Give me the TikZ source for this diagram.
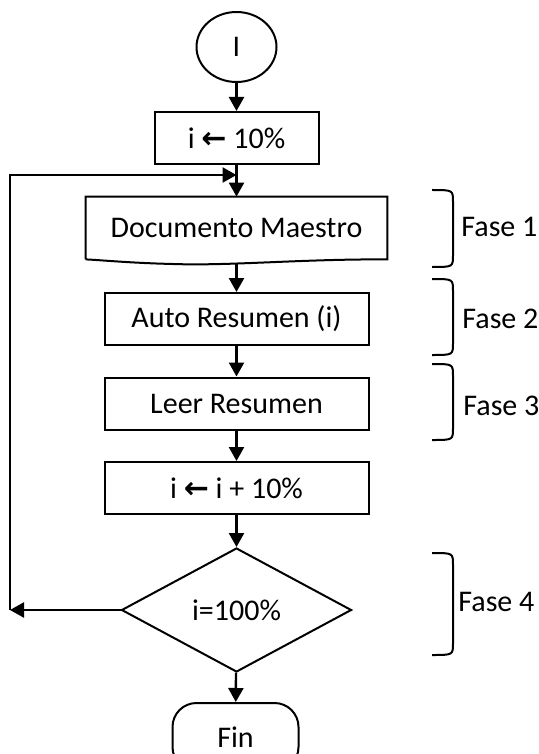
\documentclass[tikz,border=0pt]{standalone}
\usepackage{fontspec}
\setmainfont{Carlito}
\newfontfamily\arrowfont{DejaVu Sans}
\usetikzlibrary{shapes.geometric,arrows.meta}

\tikzset{
    proc/.style={draw, line width=1pt, minimum height=26pt, inner sep=0pt},
    flow/.style={line width=1.2pt, -{Triangle[length=7pt,width=7.5pt]}},
    brace/.style={line width=1pt},
}
\newcommand{\assign}{{\arrowfont\bfseries\char"2190}}

\begin{document}
\begin{tikzpicture}[x=0.5pt,y=-0.5pt,font=\fontsize{15}{18}\selectfont]

    \useasboundingbox (0,0) rectangle (539,754);

    % Start and initial value
    \node[ellipse, draw, line width=1pt, minimum width=40pt, minimum height=35pt, inner sep=0pt]
        (start) at (236.5,47) {I};
    \node[proc, minimum width=82pt] (init) at (236.5,138) {i \assign{} 10\%};

    % Document
    \node[minimum width=150.5pt, minimum height=31pt, inner sep=0pt] (doc) at (236.5,228) {Documento Maestro};
    \draw[line width=1pt] (doc.south west) -- (doc.north west) -- (doc.north east) -- (doc.south east)
        .. controls (300,259) and (230,266) .. (173,264)
        .. controls (130,263) and (100,260) .. (doc.south west);

    % Process steps
    \node[proc, minimum width=132pt] (auto) at (236.5,319) {Auto Resumen (i)};
    \node[proc, minimum width=132pt] (leer) at (236.5,403.5) {Leer Resumen};
    \node[proc, minimum width=132pt] (incr) at (236.5,488) {i \assign{} i + 10\%};

    % Decision and end
    \node[diamond, draw, line width=1pt, minimum width=115pt, minimum height=62pt, inner sep=0pt]
        (dec) at (236.5,610) {i=100\%};
    \node[draw, line width=1pt, rounded corners=12pt, minimum width=63pt, minimum height=34pt]
        (fin) at (235.5,737) {Fin};

    % Flow
    \draw[flow] (start) -- (init);
    \draw[flow] (init) -- (doc.north);
    \draw[flow] ([yshift=-2pt]doc.south) -- (auto);
    \draw[flow] (auto) -- (leer);
    \draw[flow] (leer) -- (incr);
    \draw[flow] (incr) -- (dec);
    \draw[flow] (dec) -- (fin);

    % Loop back
    \coordinate (loopdown) at (10,610);
    \coordinate (loopup) at (10,175);
    \coordinate (loopin) at (236.5,175);
    \draw[flow] (dec.west) -- (loopdown);
    \draw[flow] (loopdown) -- (loopup) -- (loopin);

    % Phases
    \foreach \t/\b/\y/\x/\n in {190/267/227/461/1, 279/355/319/462/2, 364/440/406/463/3, 553/655/602/458/4} {
        \draw[brace] (432,\t) .. controls (453,\t) .. (453,\t+12)
            -- (453,\b-12) .. controls (453,\b) .. (432,\b);
        \node[anchor=west, inner sep=0pt] (fase\n) at (\x,\y) {Fase \n};
    }

\end{tikzpicture}
\end{document}
